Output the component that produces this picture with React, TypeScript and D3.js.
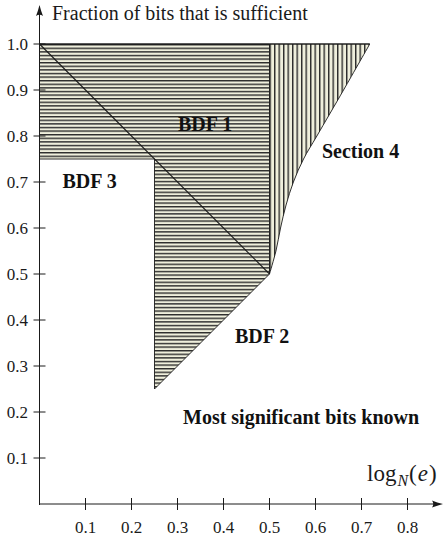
import React from "react";
import * as d3 from "d3";

// horizontally hatched region (BDF 1 / BDF 2 / BDF 3 area)
const hatchX = [0, 0.5, 0.5, 0.25, 0.25, 0];
const hatchY = [1, 1, 0.5, 0.25, 0.75, 0.75];

// BDF 3 boundary line
const bdf3X = [0, 0.5];
const bdf3Y = [1, 0.5];

// Section 4 bound (bottom to top)
const sec4X = [0.5, 0.514, 0.524, 0.536, 0.552, 0.574, 0.603, 0.661, 0.718];
const sec4Y = [0.5, 0.55, 0.6, 0.65, 0.7, 0.75, 0.8, 0.9, 1.0];

const xTicks = [0.1, 0.2, 0.3, 0.4, 0.5, 0.6, 0.7, 0.8];
const yTicks = [0.1, 0.2, 0.3, 0.4, 0.5, 0.6, 0.7, 0.8, 0.9, 1.0];

const regionLabels = ["BDF 1", "Section 4", "BDF 3", "BDF 2", "Most significant bits known"];
const labelAt: [number, number][] = [
  [0.36, 0.81],
  [0.614, 0.752],
  [0.05, 0.686],
  [0.425, 0.349],
  [0.312, 0.174],
];

const W = 447;
const H = 538;

export default function App() {
  const x = d3.scaleLinear().domain([0, 1]).range([39.5, 499.5]);
  const y = d3.scaleLinear().domain([0, 1]).range([504, 44]);

  const hatchPts = hatchX.map((v, i) => [x(v), y(hatchY[i])] as [number, number]);
  const hatchPath = d3.line()(hatchPts) + "Z";

  const curve = d3
    .line<number>()
    .x((_, i) => x(sec4X[i]))
    .y((d) => y(d))
    .curve(d3.curveCatmullRom.alpha(0.5));
  const curvePath = curve(sec4Y) as string;
  // vertical hatch: from (0.5,0.5) up the curve, across the top, back down x=0.5
  const vertPath = curvePath + `L${x(0.5)},${y(1)}Z`;

  const serif = "'Liberation Serif', 'DejaVu Serif', serif";
  const ink = "#1a1a1a";

  const x0 = x(0);
  const yBase = y(0);

  return (
    <svg width={W} height={H} style={{ position: "absolute", left: 0, top: 0, background: "#fff" }}>
      <defs>
        <pattern id="hh" patternUnits="userSpaceOnUse" width={8} height={3.6} y={y(1)}>
          <rect width={8} height={3.6} fill="#efefdc" />
          <rect y={0} width={8} height={1.4} fill="#2a2a2a" />
        </pattern>
        <pattern id="vv" patternUnits="userSpaceOnUse" width={4.5} height={8} x={x(0.5)}>
          <rect width={4.5} height={8} fill="#efefdc" />
          <rect x={0} width={1.4} height={8} fill="#2a2a2a" />
        </pattern>
      </defs>

      <path d={hatchPath} fill="url(#hh)" stroke={ink} strokeWidth={0.9} />
      <path d={vertPath} fill="url(#vv)" stroke={ink} strokeWidth={0.9} />
      <line x1={x(0)} y1={y(1)} x2={x(sec4X[sec4X.length - 1])} y2={y(1)} stroke={ink} strokeWidth={1.2} />
      <path
        d={d3.line()(bdf3X.map((v, i) => [x(v), y(bdf3Y[i])] as [number, number])) as string}
        fill="none"
        stroke={ink}
        strokeWidth={1.1}
      />

      {/* axes */}
      <line x1={x0} y1={yBase + 1} x2={x0} y2={12} stroke={ink} strokeWidth={1} />
      <path
        d={`M${x0},5 Q${x0 + 1.5},11 ${x0 + 3.5},16 Q${x0},13.5 ${x0 - 3.5},16 Q${x0 - 1.5},11 ${x0},5Z`}
        fill={ink}
      />
      <line x1={x0} y1={yBase} x2={436} y2={yBase} stroke={ink} strokeWidth={1} />
      <path
        d={`M443,${yBase} Q437,${yBase - 1.5} 432,${yBase - 3.5} Q434.5,${yBase} 432,${yBase + 3.5} Q437,${yBase + 1.5} 443,${yBase}Z`}
        fill={ink}
      />

      {xTicks.map((t) => (
        <g key={"x" + t}>
          <line x1={x(t)} x2={x(t)} y1={yBase - 6} y2={yBase + 6} stroke={ink} strokeWidth={1} />
          <text x={x(t)} y={533} textAnchor="middle" fontFamily={serif} fontSize={17} fill={ink}>
            {t.toFixed(1)}
          </text>
        </g>
      ))}
      {yTicks.map((t) => (
        <g key={"y" + t}>
          <line x1={x0 - 6} x2={x0 + 6} y1={y(t)} y2={y(t)} stroke={ink} strokeWidth={1} />
          <text x={28} y={y(t) + 6} textAnchor="end" fontFamily={serif} fontSize={17} fill={ink}>
            {t.toFixed(1)}
          </text>
        </g>
      ))}

      <text x={52} y={20} fontFamily={serif} fontSize={20} fill={ink}>
        Fraction of bits that is sufficient
      </text>

      <text x={367} y={481} fontFamily={serif} fontSize={23} fill={ink}>
        log
        <tspan dx={1} dy={5} fontSize={16} fontStyle="italic">N</tspan>
        <tspan dx={1} dy={-5}>(</tspan>
        <tspan dx={1} fontStyle="italic">e</tspan>
        <tspan dx={1}>)</tspan>
      </text>

      {regionLabels.map((l, i) => (
        <text
          key={l}
          x={x(labelAt[i][0])}
          y={y(labelAt[i][1])}
          fontFamily={serif}
          fontWeight="bold"
          fontSize={20}
          textAnchor={i === 0 ? "middle" : "start"}
          fill="#111"
        >
          {l}
        </text>
      ))}
    </svg>
  );
}
